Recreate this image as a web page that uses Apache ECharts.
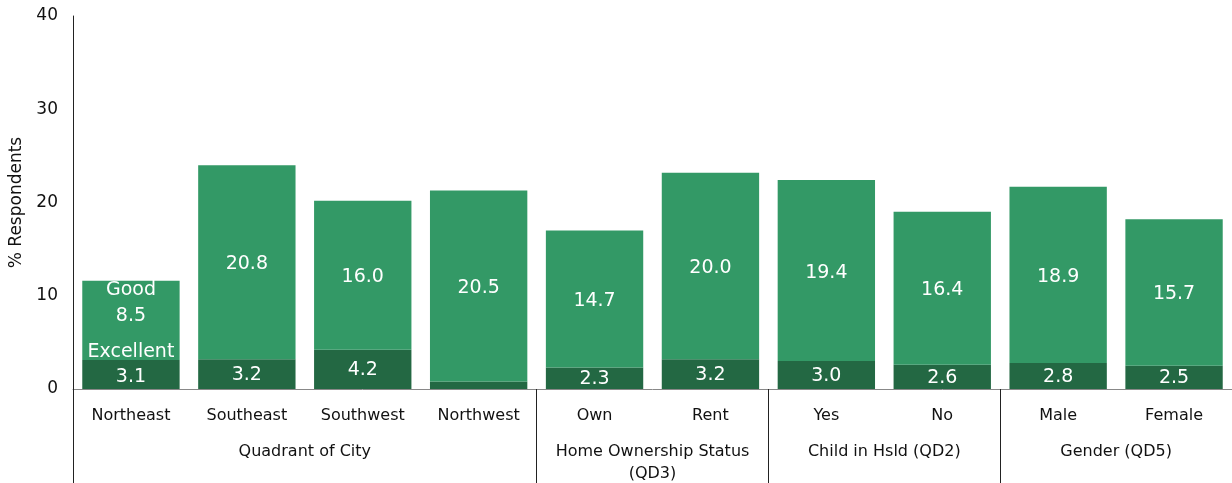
<!DOCTYPE html>
<html>
<head>
<meta charset="utf-8">
<script src="https://cdn.jsdelivr.net/npm/echarts@6/dist/echarts.min.js"></script>
<style>
  html, body { margin: 0; padding: 0; background: #fff; }
  #chart { width: 1232px; height: 483px; }
</style>
</head>
<body>
<div id="chart"></div>
<script>
// categories and values
const categories = ['Northeast', 'Southeast', 'Southwest', 'Northwest', 'Own', 'Rent', 'Yes', 'No', 'Male', 'Female'];
const excellent = [3.1, 3.2, 4.2, 0.8, 2.3, 3.2, 3.0, 2.6, 2.8, 2.5];
const good = [8.5, 20.8, 16.0, 20.5, 14.7, 20.0, 19.4, 16.4, 18.9, 15.7];
const groupLabels = ['Quadrant of City', 'Home Ownership Status\n(QD3)', 'Child in Hsld (QD2)', 'Gender (QD5)'];
const groupStarts = [0, 4, 6, 8];   // first category of each group
const groupSizes = [4, 2, 2, 2];
const yTicks = [0, 10, 20, 30, 40];

const font = 'DejaVu Sans';

// half-step axis so group labels can sit at group centres
const halfSlots = [];
for (let i = 0; i <= categories.length * 2; i++) halfSlots.push('');
groupStarts.forEach((s, k) => { halfSlots[s * 2 + groupSizes[k]] = groupLabels[k]; });

const chart = echarts.init(document.getElementById('chart'));
chart.setOption({
    animation: false,
    grid: { left: 73, right: 0, top: 16, bottom: 94, containLabel: false, outerBoundsMode: 'none' },
    xAxis: [
        {
            type: 'category',
            data: categories,
            axisLine: { lineStyle: { color: '#888', width: 1 } },
            axisTick: {
                show: true,
                interval: (i) => groupStarts.indexOf(i) >= 0,
                length: 94,
                lineStyle: { color: '#222' }
            },
            axisLabel: { interval: 0, margin: 19, fontFamily: font, fontSize: 16, color: '#111' }
        },
        {
            type: 'category',
            position: 'bottom',
            data: halfSlots,
            boundaryGap: false,
            axisLine: { show: false },
            axisTick: { show: false },
            axisLabel: { interval: 0, margin: 52, fontFamily: font, fontSize: 16, color: '#111', lineHeight: 22 }
        }
    ],
    yAxis: {
        type: 'value',
        min: yTicks[0],
        max: yTicks[yTicks.length - 1],
        interval: 10,
        name: '% Respondents',
        nameLocation: 'middle',
        nameGap: 48,
        nameTextStyle: { fontFamily: font, fontSize: 17, color: '#111' },
        axisLine: { show: true, lineStyle: { color: '#222' } },
        axisTick: { show: false },
        splitLine: { show: false },
        axisLabel: { margin: 15, fontFamily: font, fontSize: 17, color: '#111' }
    },
    series: [
        {
            name: 'Excellent',
            type: 'bar',
            stack: 'total',
            barCategoryGap: '16%',
            data: excellent,
            itemStyle: { color: '#236843' },
            label: {
                show: true,
                position: 'inside',
                fontFamily: font,
                fontSize: 19,
                color: '#fff',
                lineHeight: 25,
                formatter: (p) => {
                    if (p.dataIndex === 3) return '';
                    if (p.dataIndex === 0) return 'Excellent\n' + p.value.toFixed(1);
                    return p.value.toFixed(1);
                }
            },
            labelLayout: (p) => p.dataIndex === 0 ? { dy: -10 } : { dy: 1 }
        },
        {
            name: 'Good',
            type: 'bar',
            stack: 'total',
            barCategoryGap: '16%',
            data: good,
            itemStyle: { color: '#339966' },
            label: {
                show: true,
                position: 'inside',
                fontFamily: font,
                fontSize: 19,
                color: '#fff',
                lineHeight: 26,
                formatter: (p) => p.dataIndex === 0 ? 'Good\n' + p.value.toFixed(1) : p.value.toFixed(1)
            },
            labelLayout: (p) => p.dataIndex === 0 ? { dy: -17 } : { dy: 2 }
        }
    ]
});
</script>
</body>
</html>
